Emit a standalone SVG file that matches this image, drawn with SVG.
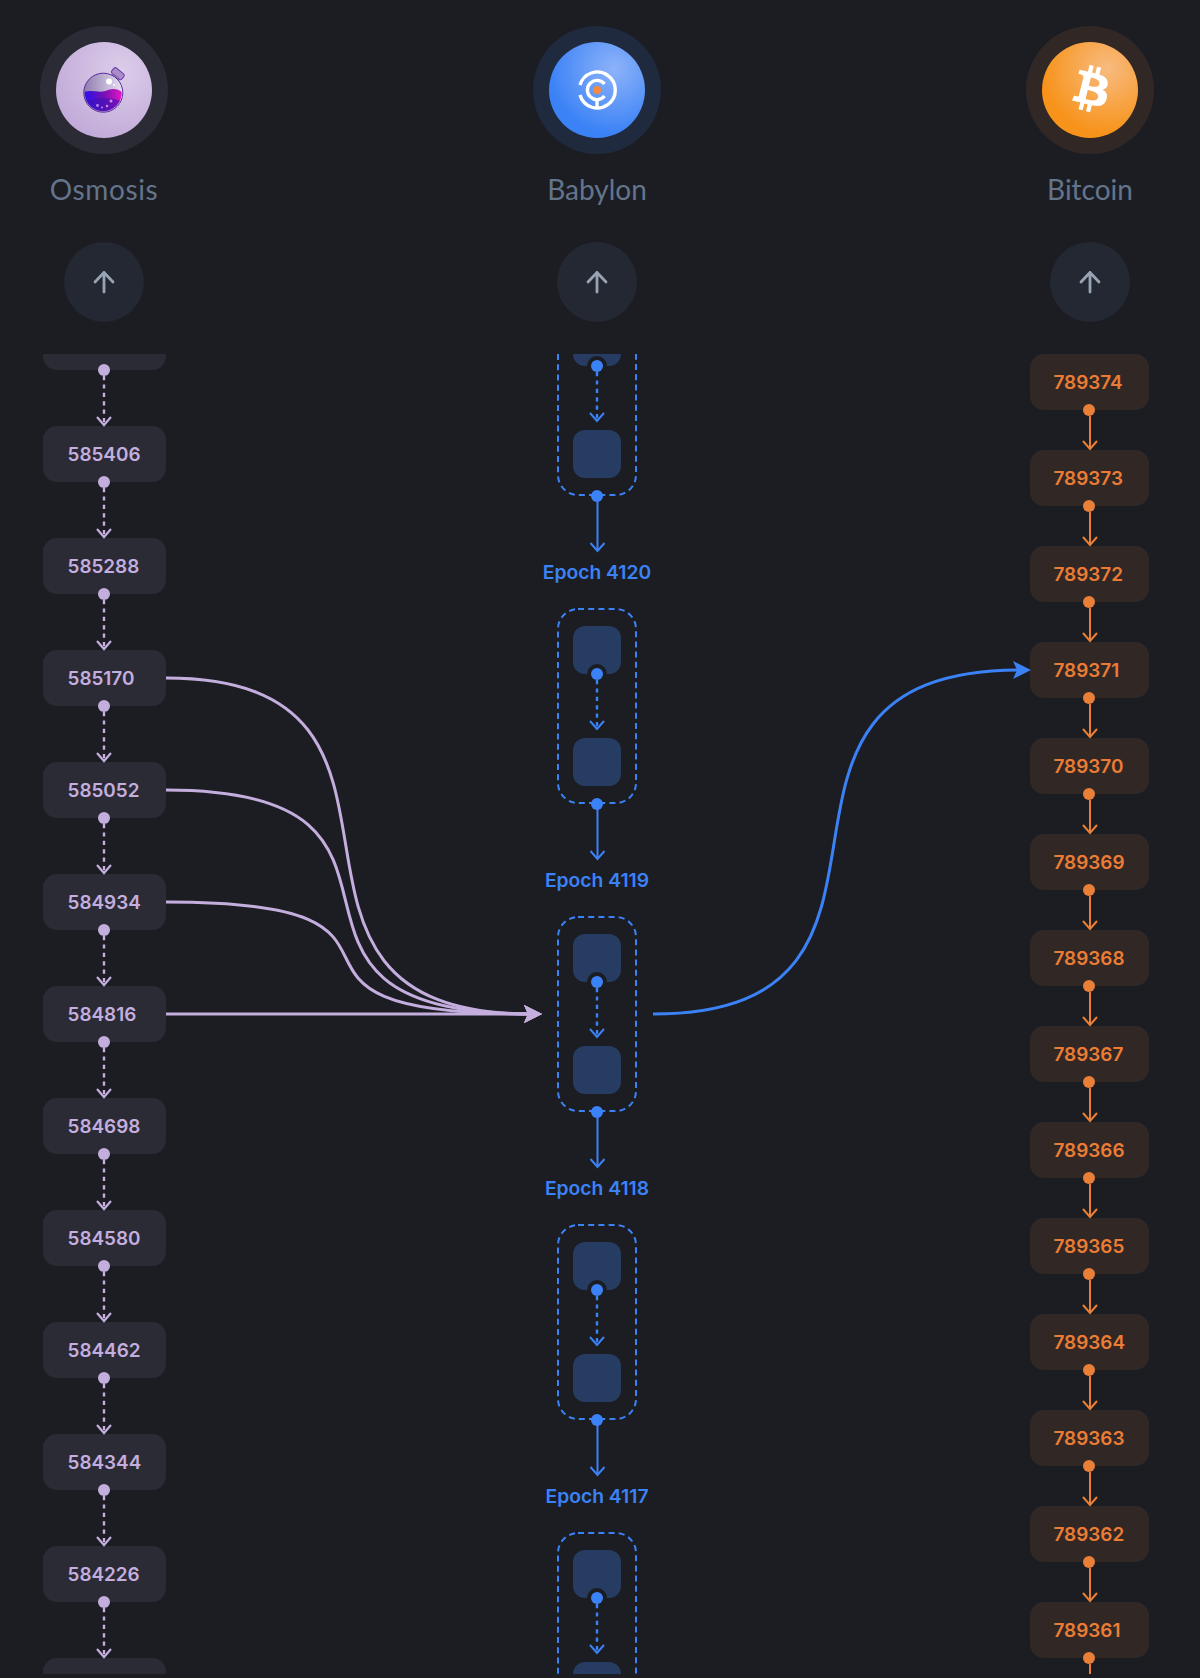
<svg xmlns="http://www.w3.org/2000/svg" width="1200" height="1678" viewBox="0 0 1200 1678">
<style>
text{font-family:"Inter","Liberation Sans",sans-serif}
.title{font-family:"Lato","Liberation Sans",sans-serif;font-size:28px;fill:#64748b;text-anchor:middle}
.num{font-size:18.900px;font-weight:600}
.o{fill:#2b2b36}.ot{fill:#c4aede}
.b{fill:#312826}.bt{fill:#ea7c35}
.e{fill:#273c62}
.ep{font-size:19.300px;font-weight:600;fill:#3b82f6;text-anchor:middle}
.btn{fill:#232832}
.up{fill:none;stroke:#98a3b3;stroke-width:2.800;stroke-linecap:round;stroke-linejoin:round}
.box{fill:none;stroke:#3b82f6;stroke-width:2;stroke-dasharray:6 4.200}
.hole{fill:#1b1d23}
.dp{fill:#c4aede}.dr{fill:#ea7f38}.db{fill:#3b82f6}
.lp{stroke:#c4aede;stroke-width:2.400;stroke-dasharray:4.200 4.200;marker-end:url(#cp)}
.lb{stroke:#3b82f6;stroke-width:2.400;stroke-dasharray:4.200 4.200;marker-end:url(#cb)}
.sb{stroke:#3b82f6;stroke-width:2;marker-end:url(#cb)}
.sr{stroke:#ea7f38;stroke-width:2;marker-end:url(#cr)}
.cp{fill:none;stroke:#c4aede;stroke-width:3;marker-end:url(#ap)}
.cb{fill:none;stroke:#3b82f6;stroke-width:3;marker-end:url(#ab)}
</style>
<defs>
<marker id="cp" markerUnits="userSpaceOnUse" markerWidth="18" markerHeight="20" viewBox="-12 -10 14 20" refX="0" refY="0" orient="auto"><path d="M-8-7 0 0-8 7" fill="none" stroke="#c4aede" stroke-width="2.200"/></marker>
<marker id="cb" markerUnits="userSpaceOnUse" markerWidth="18" markerHeight="20" viewBox="-12 -10 14 20" refX="0" refY="0" orient="auto"><path d="M-8-7 0 0-8 7" fill="none" stroke="#3b82f6" stroke-width="2"/></marker>
<marker id="cr" markerUnits="userSpaceOnUse" markerWidth="18" markerHeight="20" viewBox="-12 -10 14 20" refX="0" refY="0" orient="auto"><path d="M-8-7 0 0-8 7" fill="none" stroke="#ea7f38" stroke-width="2"/></marker>
<marker id="ap" markerUnits="userSpaceOnUse" markerWidth="20" markerHeight="20" viewBox="-10 -10 20 20" refX="-1" refY="0" orient="auto"><path d="M10 0-8-9-4 0-8 9Z" fill="#c4aede"/></marker>
<marker id="ab" markerUnits="userSpaceOnUse" markerWidth="20" markerHeight="20" viewBox="-10 -10 20 20" refX="-1" refY="0" orient="auto"><path d="M10 0-8-9-4 0-8 9Z" fill="#3b82f6"/></marker>
<clipPath id="view"><rect x="0" y="354" width="1200" height="1320"/></clipPath>
<clipPath id="flask"><circle cx="103.300" cy="92.700" r="18.500"/></clipPath>
<radialGradient id="go" cx="0.68" cy="0.3" r="0.75"><stop offset="0" stop-color="#dccde9"/><stop offset="1" stop-color="#c2abd9"/></radialGradient>
<radialGradient id="gb" cx="0.68" cy="0.28" r="0.68"><stop offset="0" stop-color="#8db3f9"/><stop offset="1" stop-color="#3b82f6"/></radialGradient>
<radialGradient id="gc" cx="0.68" cy="0.28" r="0.68"><stop offset="0" stop-color="#f8bb80"/><stop offset="1" stop-color="#f7931a"/></radialGradient>
<linearGradient id="liq" x1="0" y1="0" x2="1" y2="0"><stop offset="0" stop-color="#2a10f0"/><stop offset="0.55" stop-color="#7a10b0"/><stop offset="1" stop-color="#e815c8"/></linearGradient>
<linearGradient id="gls" x1="0" y1="0" x2="1" y2="0"><stop offset="0" stop-color="#8f7cae"/><stop offset="1" stop-color="#e8e0f2"/></linearGradient>
</defs>
<rect width="1200" height="1678" fill="#1b1d23"/>

<g id="header-osmosis">
<circle cx="104" cy="90" r="64" fill="#2b2b36"/>
<circle cx="104" cy="90" r="48" fill="url(#go)"/>
<g transform="translate(-1.500 1.500) rotate(40 118 73)"><rect x="112" y="68" width="13" height="7" rx="2" fill="#a98cc8" stroke="#6a3aa6" stroke-width="1"/><rect x="114" y="74" width="8" height="6" fill="#8a68b4"/></g>
<circle cx="103.300" cy="92.700" r="19.500" fill="url(#gls)" stroke="#5a2a9e" stroke-width="1"/>
<g clip-path="url(#flask)">
<path d="M84 92C92 89 100 94 108 90 114 88 118 89 122 92V114H84Z" fill="url(#liq)"/>
<path d="M84 102C92 97 115 97 122 102V114H84Z" fill="#3a12b8" opacity=".6"/>
</g>
<circle cx="109" cy="81.500" r="3" fill="#fff"/><circle cx="114" cy="85" r="1" fill="#fff"/>
<circle cx="97.500" cy="105.500" r="1.400" fill="#b48be8"/><circle cx="102" cy="107.500" r="1" fill="#b48be8"/><circle cx="107" cy="106" r="1.200" fill="#d58be8"/><circle cx="111" cy="101" r="1.500" fill="#d58be8"/>
<text class="title" x="104" y="200" style="letter-spacing:.6px">Osmosis</text>
</g>
<g id="header-babylon">
<circle cx="597" cy="90" r="64" fill="#1f2a3e"/>
<circle cx="597" cy="90" r="48" fill="url(#gb)"/>
<g fill="none" stroke="#fff" stroke-width="3.400">
<path d="M580 85A18 18 0 1 1 580 95"/>
<path d="M604.500 84A9.600 9.600 0 1 0 604.500 96"/>
<path d="M597 99.500V108"/>
</g>
<circle cx="597" cy="90" r="4" fill="#f7873c"/>
<text class="title" x="597" y="200">Babylon</text>
</g>
<g id="header-bitcoin">
<circle cx="1090" cy="90" r="64" fill="#312826"/>
<circle cx="1090" cy="90" r="48" fill="url(#gc)"/>
<path transform="translate(1090 90) scale(1.17) translate(-31 -32.500)" fill="#fff" fill-rule="evenodd" d="M46.100 27.400c.6-4.300-2.600-6.600-7.100-8.100l1.500-5.800-3.500-.9-1.400 5.700c-.9-.2-1.900-.4-2.800-.7l1.400-5.700-3.500-.9-1.500 5.800c-.8-.2-1.500-.3-2.200-.5l-4.900-1.200-.9 3.800s2.600.6 2.600.6c1.400.4 1.700 1.300 1.600 2l-3.900 15.700c-.2.4-.6 1.100-1.600.8 0 0-2.600-.6-2.600-.6l-1.700 4 4.600 1.100c.9.2 1.700.4 2.500.6l-1.500 5.900 3.500.9 1.500-5.800c1 .3 1.900.5 2.800.7l-1.400 5.800 3.500.9 1.500-5.900c6 1.100 10.500.7 12.400-4.800 1.500-4.400-.1-6.900-3.200-8.500 2.300-.5 4-2 4.500-5.100zM38 38.800c-1.100 4.400-8.400 2-10.800 1.400l1.900-7.800c2.400.6 10 1.800 8.900 6.400zM39.100 27.300c-1 4-7.100 2-9.100 1.500l1.700-7c2 .5 8.400 1.400 7.400 5.500z"/>
<text class="title" x="1090" y="200">Bitcoin</text>
</g>
<g id="scroll-osmosis"><circle class="btn" cx="104" cy="282" r="40"/><path class="up" d="M104 292V272.500M95 282l9-9.500 9 9.500"/></g>
<g id="scroll-babylon"><circle class="btn" cx="597" cy="282" r="40"/><path class="up" d="M597 292V272.500M588 282l9-9.500 9 9.500"/></g>
<g id="scroll-bitcoin"><circle class="btn" cx="1090" cy="282" r="40"/><path class="up" d="M1090 292V272.500M1081 282l9-9.500 9 9.500"/></g>

<g clip-path="url(#view)">
<g id="osmosis-blocks">
<g id="o-top"><rect class="o" x="43" y="314" width="123" height="56" rx="14"/></g>
<g id="o585406"><rect class="o" x="43" y="426" width="123" height="56" rx="14"/><text class="num ot" x="67.500" y="461">585406</text></g>
<g id="o585288"><rect class="o" x="43" y="538" width="123" height="56" rx="14"/><text class="num ot" x="67.500" y="573">585288</text></g>
<g id="o585170"><rect class="o" x="43" y="650" width="123" height="56" rx="14"/><text class="num ot" x="67.500" y="685">585170</text></g>
<g id="o585052"><rect class="o" x="43" y="762" width="123" height="56" rx="14"/><text class="num ot" x="67.500" y="797">585052</text></g>
<g id="o584934"><rect class="o" x="43" y="874" width="123" height="56" rx="14"/><text class="num ot" x="67.500" y="909">584934</text></g>
<g id="o584816"><rect class="o" x="43" y="986" width="123" height="56" rx="14"/><text class="num ot" x="67.500" y="1021">584816</text></g>
<g id="o584698"><rect class="o" x="43" y="1098" width="123" height="56" rx="14"/><text class="num ot" x="67.500" y="1133">584698</text></g>
<g id="o584580"><rect class="o" x="43" y="1210" width="123" height="56" rx="14"/><text class="num ot" x="67.500" y="1245">584580</text></g>
<g id="o584462"><rect class="o" x="43" y="1322" width="123" height="56" rx="14"/><text class="num ot" x="67.500" y="1357">584462</text></g>
<g id="o584344"><rect class="o" x="43" y="1434" width="123" height="56" rx="14"/><text class="num ot" x="67.500" y="1469">584344</text></g>
<g id="o584226"><rect class="o" x="43" y="1546" width="123" height="56" rx="14"/><text class="num ot" x="67.500" y="1581">584226</text></g>
<g id="o-bottom"><rect class="o" x="43" y="1658" width="123" height="56" rx="14"/></g>
</g>
<g id="bitcoin-blocks">
<g id="b789374"><rect class="b" x="1030" y="354" width="119" height="56" rx="14"/><text class="num bt" x="1053.500" y="389">789374</text></g>
<g id="b789373"><rect class="b" x="1030" y="450" width="119" height="56" rx="14"/><text class="num bt" x="1053.500" y="485">789373</text></g>
<g id="b789372"><rect class="b" x="1030" y="546" width="119" height="56" rx="14"/><text class="num bt" x="1053.500" y="581">789372</text></g>
<g id="b789371"><rect class="b" x="1030" y="642" width="119" height="56" rx="14"/><text class="num bt" x="1053.500" y="677">789371</text></g>
<g id="b789370"><rect class="b" x="1030" y="738" width="119" height="56" rx="14"/><text class="num bt" x="1053.500" y="773">789370</text></g>
<g id="b789369"><rect class="b" x="1030" y="834" width="119" height="56" rx="14"/><text class="num bt" x="1053.500" y="869">789369</text></g>
<g id="b789368"><rect class="b" x="1030" y="930" width="119" height="56" rx="14"/><text class="num bt" x="1053.500" y="965">789368</text></g>
<g id="b789367"><rect class="b" x="1030" y="1026" width="119" height="56" rx="14"/><text class="num bt" x="1053.500" y="1061">789367</text></g>
<g id="b789366"><rect class="b" x="1030" y="1122" width="119" height="56" rx="14"/><text class="num bt" x="1053.500" y="1157">789366</text></g>
<g id="b789365"><rect class="b" x="1030" y="1218" width="119" height="56" rx="14"/><text class="num bt" x="1053.500" y="1253">789365</text></g>
<g id="b789364"><rect class="b" x="1030" y="1314" width="119" height="56" rx="14"/><text class="num bt" x="1053.500" y="1349">789364</text></g>
<g id="b789363"><rect class="b" x="1030" y="1410" width="119" height="56" rx="14"/><text class="num bt" x="1053.500" y="1445">789363</text></g>
<g id="b789362"><rect class="b" x="1030" y="1506" width="119" height="56" rx="14"/><text class="num bt" x="1053.500" y="1541">789362</text></g>
<g id="b789361"><rect class="b" x="1030" y="1602" width="119" height="56" rx="14"/><text class="num bt" x="1053.500" y="1637">789361</text></g>
</g>
<g id="babylon-epochs">
<g id="e4121"><rect class="box" x="558" y="301" width="78" height="194" rx="20"/><rect class="e" x="573" y="318" width="48" height="48" rx="12"/><circle class="hole" cx="597" cy="366" r="10"/><rect class="e" x="573" y="430" width="48" height="48" rx="12"/></g>
<text class="ep" x="597" y="579">Epoch 4120</text>
<g id="e4120"><rect class="box" x="558" y="609" width="78" height="194" rx="20"/><rect class="e" x="573" y="626" width="48" height="48" rx="12"/><circle class="hole" cx="597" cy="674" r="10"/><rect class="e" x="573" y="738" width="48" height="48" rx="12"/></g>
<text class="ep" x="597" y="887">Epoch 4119</text>
<g id="e4119"><rect class="box" x="558" y="917" width="78" height="194" rx="20"/><rect class="e" x="573" y="934" width="48" height="48" rx="12"/><circle class="hole" cx="597" cy="982" r="10"/><rect class="e" x="573" y="1046" width="48" height="48" rx="12"/></g>
<text class="ep" x="597" y="1195">Epoch 4118</text>
<g id="e4118"><rect class="box" x="558" y="1225" width="78" height="194" rx="20"/><rect class="e" x="573" y="1242" width="48" height="48" rx="12"/><circle class="hole" cx="597" cy="1290" r="10"/><rect class="e" x="573" y="1354" width="48" height="48" rx="12"/></g>
<text class="ep" x="597" y="1503">Epoch 4117</text>
<g id="e4117"><rect class="box" x="558" y="1533" width="78" height="194" rx="20"/><rect class="e" x="573" y="1550" width="48" height="48" rx="12"/><circle class="hole" cx="597" cy="1598" r="10"/><rect class="e" x="573" y="1662" width="48" height="48" rx="12"/></g>
</g>
<g id="connectors">
<g id="osmosis-links">
<path class="lp" d="M104 376V425"/><path class="lp" d="M104 488V537"/><path class="lp" d="M104 600V649"/><path class="lp" d="M104 712V761"/><path class="lp" d="M104 824V873"/><path class="lp" d="M104 936V985"/><path class="lp" d="M104 1048V1097"/><path class="lp" d="M104 1160V1209"/><path class="lp" d="M104 1272V1321"/><path class="lp" d="M104 1384V1433"/><path class="lp" d="M104 1496V1545"/><path class="lp" d="M104 1608V1657"/>
<circle class="dp" cx="104" cy="370" r="6"/><circle class="dp" cx="104" cy="482" r="6"/><circle class="dp" cx="104" cy="594" r="6"/><circle class="dp" cx="104" cy="706" r="6"/><circle class="dp" cx="104" cy="818" r="6"/><circle class="dp" cx="104" cy="930" r="6"/><circle class="dp" cx="104" cy="1042" r="6"/><circle class="dp" cx="104" cy="1154" r="6"/><circle class="dp" cx="104" cy="1266" r="6"/><circle class="dp" cx="104" cy="1378" r="6"/><circle class="dp" cx="104" cy="1490" r="6"/><circle class="dp" cx="104" cy="1602" r="6"/>
</g>
<g id="bitcoin-links">
<path class="sr" d="M1090 416V449"/><path class="sr" d="M1090 512V545"/><path class="sr" d="M1090 608V641"/><path class="sr" d="M1090 704V737"/><path class="sr" d="M1090 800V833"/><path class="sr" d="M1090 896V929"/><path class="sr" d="M1090 992V1025"/><path class="sr" d="M1090 1088V1121"/><path class="sr" d="M1090 1184V1217"/><path class="sr" d="M1090 1280V1313"/><path class="sr" d="M1090 1376V1409"/><path class="sr" d="M1090 1472V1505"/><path class="sr" d="M1090 1568V1601"/><path class="sr" d="M1090 1664V1697"/>
<circle class="dr" cx="1089" cy="410" r="6"/><circle class="dr" cx="1089" cy="506" r="6"/><circle class="dr" cx="1089" cy="602" r="6"/><circle class="dr" cx="1089" cy="698" r="6"/><circle class="dr" cx="1089" cy="794" r="6"/><circle class="dr" cx="1089" cy="890" r="6"/><circle class="dr" cx="1089" cy="986" r="6"/><circle class="dr" cx="1089" cy="1082" r="6"/><circle class="dr" cx="1089" cy="1178" r="6"/><circle class="dr" cx="1089" cy="1274" r="6"/><circle class="dr" cx="1089" cy="1370" r="6"/><circle class="dr" cx="1089" cy="1466" r="6"/><circle class="dr" cx="1089" cy="1562" r="6"/><circle class="dr" cx="1089" cy="1658" r="6"/>
</g>
<g id="babylon-links">
<path class="lb" d="M597 372V421"/><path class="sb" d="M597.500 496V551"/><circle class="db" cx="597" cy="366" r="6"/><circle class="db" cx="597" cy="496" r="6"/>
<path class="lb" d="M597 680V729"/><path class="sb" d="M597.500 804V859"/><circle class="db" cx="597" cy="674" r="6"/><circle class="db" cx="597" cy="804" r="6"/>
<path class="lb" d="M597 988V1037"/><path class="sb" d="M597.500 1112V1167"/><circle class="db" cx="597" cy="982" r="6"/><circle class="db" cx="597" cy="1112" r="6"/>
<path class="lb" d="M597 1296V1345"/><path class="sb" d="M597.500 1420V1475"/><circle class="db" cx="597" cy="1290" r="6"/><circle class="db" cx="597" cy="1420" r="6"/>
<path class="lb" d="M597 1604V1653"/><circle class="db" cx="597" cy="1598" r="6"/>
</g>
<g id="cross-links">
<path class="cp" d="M166 678C473 678 217 1014 531 1014"/>
<path class="cp" d="M166 790C473 790 217 1014 531 1014"/>
<path class="cp" d="M166 902C473 902 217 1014 531 1014"/>
<path class="cp" d="M166 1014H531"/>
<path class="cb" d="M653 1014C962 1014 705 670 1020 670"/>
</g>
</g>
</g>
</svg>
